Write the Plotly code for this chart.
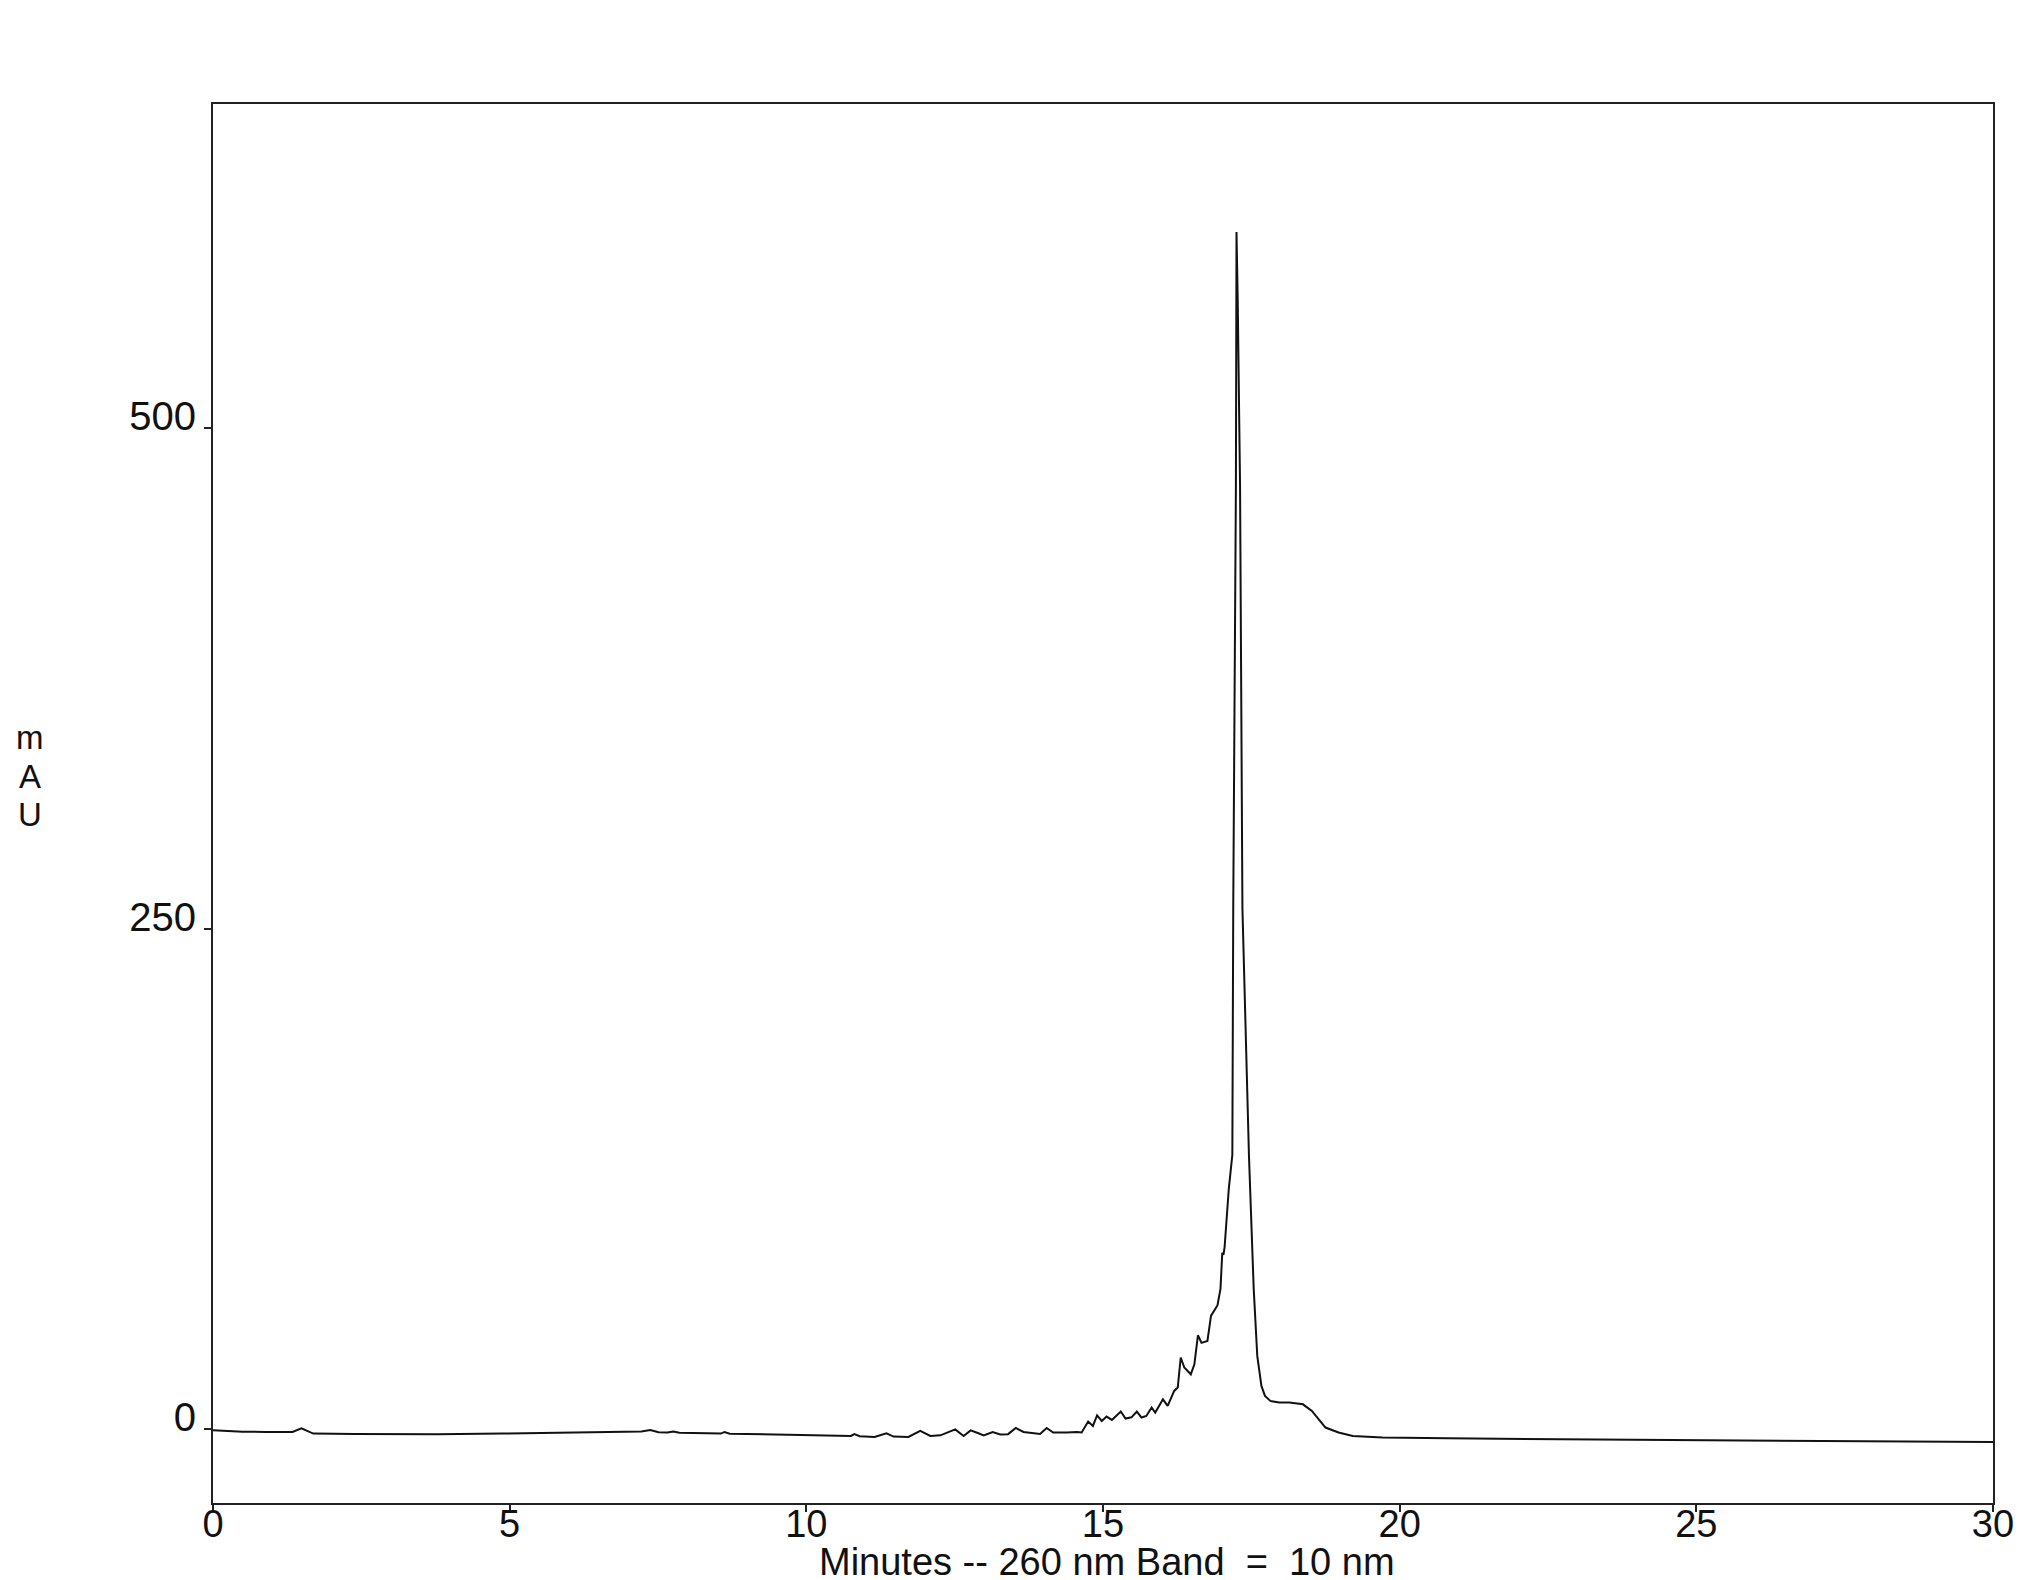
import plotly.graph_objects as go

# Retention time (minutes) and absorbance (mAU)
time_min = [
    0.00, 0.20, 0.50, 0.89, 1.34, 1.49, 1.69, 2.39, 3.78, 4.88, 5.47, 6.37,
    7.07, 7.22, 7.37, 7.51, 7.66, 7.76, 7.86, 8.56, 8.62, 8.71, 9.91, 10.75,
    10.81, 10.90, 11.15, 11.35, 11.47, 11.72, 11.92, 12.09, 12.26, 12.51, 12.65,
    12.77, 12.89, 12.99, 13.14, 13.27, 13.40, 13.53, 13.66, 13.94, 14.05, 14.16,
    14.39, 14.56, 14.64, 14.75, 14.83, 14.90, 14.98, 15.06, 15.15, 15.30, 15.38,
    15.48, 15.57, 15.65, 15.73, 15.82, 15.88, 16.01, 16.09, 16.20, 16.26, 16.31,
    16.37, 16.48, 16.54, 16.60, 16.66, 16.76, 16.82, 16.87, 16.93, 16.98, 17.01,
    17.03, 17.05, 17.12, 17.18, 17.195, 17.24, 17.25, 17.27, 17.31, 17.35, 17.46,
    17.54, 17.60, 17.67, 17.73, 17.82, 17.97, 18.14, 18.37, 18.52, 18.75, 18.97,
    19.21, 19.71, 20.80, 22.50, 25.78, 30.00,
]
absorbance_mau = [
    -0.6, -0.9, -1.4, -1.5, -1.5, 0.3, -2.3, -2.5, -2.6, -2.3, -2.0, -1.8,
    -1.5, -1.3, -0.5, -1.6, -1.8, -1.3, -1.9, -2.3, -1.5, -2.4, -3.0, -3.5,
    -2.6, -3.6, -4.0, -2.2, -3.8, -4.0, -1.0, -3.5, -3.2, -0.2, -3.5,
    -0.7, -2.0, -3.2, -1.5, -2.8, -2.6, 0.5, -1.5, -2.5, 0.5, -1.8,
    -1.8, -1.5, -1.8, 3.7, 1.5, 6.8, 4.0, 6.2, 4.5, 8.7, 5.2,
    5.8, 8.7, 5.7, 6.5, 10.7, 8.2, 14.8, 11.5, 19.0, 20.7, 35.7,
    30.7, 27.3, 32.3, 46.8, 43.0, 44.0, 56.5, 59.0, 61.8, 70.0, 88.0,
    87.0, 91.0, 120.0, 137.0, 260.0, 471.0, 598.0, 565.0, 471.0, 260.0, 136.5,
    70.0, 36.5, 21.5, 16.5, 14.0, 13.2, 13.2, 12.3, 9.0, 0.7, -1.8,
    -3.5, -4.3, -4.7, -5.2, -5.8, -6.5,
]

x_ticks = [0, 5, 10, 15, 20, 25, 30]
y_ticks = [0, 250, 500]
x_range = [0, 30]
y_range = [-37, 662]

x_title = "Minutes -- 260 nm Band\u00a0 = \u00a010 nm"
y_title_letters = ["m", "A", "U"]

W, H = 2025, 1580
ML, MR, MT, MB = 205, 40, 96, 85
plot_h = H - MT - MB
plot_w = W - ML - MR

FONT = "Liberation Sans, Arial, sans-serif"

fig = go.Figure()
fig.add_trace(go.Scatter(
    x=time_min, y=absorbance_mau, mode="lines",
    line=dict(color="#111111", width=2),
    showlegend=False, hoverinfo="skip",
))

axis_common = dict(
    showline=True, linecolor="#222222", linewidth=2, mirror=True,
    showgrid=False, zeroline=False, ticks="outside", ticklen=7,
    tickwidth=2, tickcolor="#222222",
)

fig.update_xaxes(range=x_range, tickvals=x_ticks,
                 ticktext=[str(v) for v in x_ticks],
                 ticklabelstandoff=-21,
                 tickfont=dict(family=FONT, size=38, color="#111111"),
                 **axis_common)
fig.update_yaxes(range=y_range, tickvals=y_ticks,
                 ticktext=[str(v) for v in y_ticks],
                 ticklabelshift=-12,
                 tickfont=dict(family=FONT, size=40, color="#111111"),
                 **axis_common)

annotations = []
# x axis title
annotations.append(dict(
    text=x_title, xref="paper", yref="paper",
    x=(1099 - ML) / plot_w, y=(MT + plot_h - 1554) / plot_h,
    xanchor="center", yanchor="middle", showarrow=False,
    font=dict(family=FONT, size=38, color="#111111"),
))
# stacked y axis title letters
for letter, ypix in zip(y_title_letters, [730, 768, 806]):
    annotations.append(dict(
        text=letter, xref="paper", yref="paper",
        x=(22 - ML) / plot_w, y=(MT + plot_h - ypix) / plot_h,
        xanchor="center", yanchor="middle", showarrow=False,
        font=dict(family=FONT, size=33, color="#111111"),
    ))

fig.update_layout(
    width=W, height=H, autosize=False,
    margin=dict(l=ML, r=MR, t=MT, b=MB, pad=0),
    paper_bgcolor="white", plot_bgcolor="white",
    annotations=annotations,
)

fig.write_html("out.html")
